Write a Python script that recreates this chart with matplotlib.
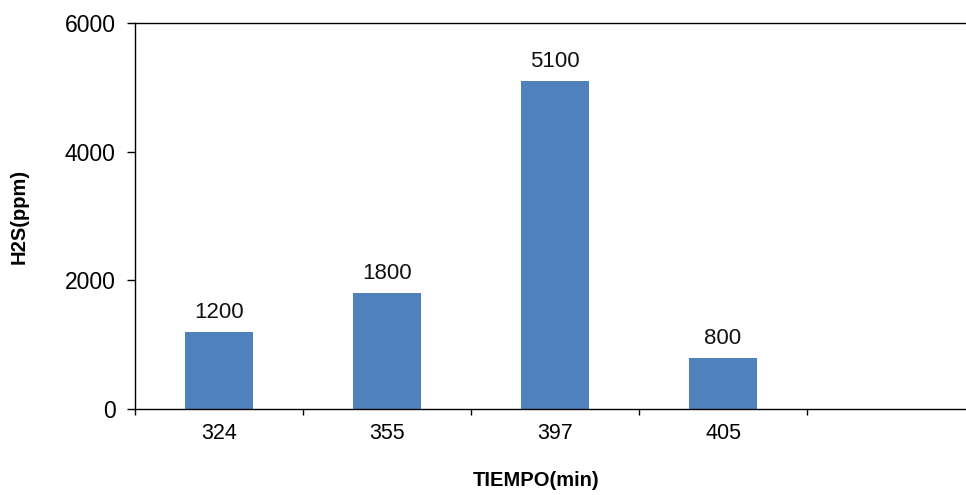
import numpy as np
import matplotlib
matplotlib.use('Agg')
import matplotlib.pyplot as plt

plt.rcParams['font.family'] = ['Liberation Sans', 'DejaVu Sans']

# data (last category slot is empty)
tiempo = ['324', '355', '397', '405', '']
h2s = [1200, 1800, 5100, 800]

bar_color = '#4F81BD'

fig = plt.figure(figsize=(9.66, 4.95), dpi=100)
W, H = 966, 495
ax = fig.add_axes([135 / W, (H - 409) / H, (975 - 135) / W, (409 - 23) / H])

x = np.arange(len(h2s))
ax.bar(x, h2s, width=0.4, color=bar_color)

for xi, v in zip(x, h2s):
    ax.annotate(str(v), (xi, v), xytext=(0, 14), textcoords='offset pixels',
                ha='center', va='baseline', fontsize=16, color='#111111')

ax.set_xlim(-0.5, len(tiempo) - 0.5)
ax.set_ylim(0, 6000)
ax.set_yticks([0, 2000, 4000, 6000])

ax.set_xticks(np.arange(len(tiempo)))
ax.set_xticklabels(tiempo)
ax.set_xticks(np.arange(len(tiempo) + 1) - 0.5, minor=True)
ax.tick_params(axis='x', which='major', length=0, pad=10, labelsize=15.5)
ax.tick_params(axis='x', which='minor', length=4.5, width=1.0, direction='out')
ax.tick_params(axis='y', length=5.8, width=1.0, pad=8, labelsize=16.5)

for s in ['left', 'bottom', 'top']:
    ax.spines[s].set_linewidth(1.0)
    ax.spines[s].set_color('black')
ax.spines['right'].set_visible(False)

ax.set_ylabel('H2S(ppm)', fontsize=14.5, fontweight='bold')
ax.yaxis.set_label_coords((29 - 135) / (975 - 135), 0.5)
fig.text(536 / W, 1 - 480 / H, 'TIEMPO(min)', ha='center', va='center',
         fontsize=14.5, fontweight='bold')

fig.savefig('out.png', dpi=100)
